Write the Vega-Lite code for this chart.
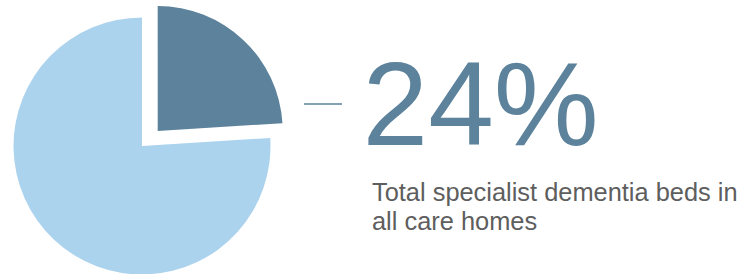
{
  "$schema": "https://vega.github.io/schema/vega-lite/v6.json",
  "padding": 0,
  "spacing": 0,
  "background": "white",
  "config": {"view": {"stroke": null}, "concat": {"spacing": 0}},
  "data": {
    "values": [
      {"category": "Specialist dementia beds", "share": 0.24, "order": 1},
      {"category": "Other beds", "share": 0.76, "order": 2}
    ]
  },
  "hconcat": [
    {
      "width": 284,
      "height": 292,
      "transform": [
        {"stack": "share", "groupby": [], "sort": [{"field": "order", "order": "ascending"}], "as": ["start", "end"]}
      ],
      "layer": [
        {
          "transform": [{"filter": "datum.category === 'Other beds'"}],
          "mark": {"type": "arc", "radius": 128.5},
          "encoding": {
            "theta": {"field": "start", "type": "quantitative", "scale": {"domain": [0, 1]}},
            "theta2": {"field": "end"},
            "color": {"field": "category", "type": "nominal", "scale": {"domain": ["Specialist dementia beds", "Other beds"], "range": ["#5c829c", "#acd3ee"]}, "legend": null}
          }
        },
        {
          "transform": [{"filter": "datum.category === 'Specialist dementia beds'"}],
          "mark": {"type": "arc", "radius": 125, "xOffset": 15.7, "yOffset": -15},
          "encoding": {
            "theta": {"field": "start", "type": "quantitative", "scale": {"domain": [0, 1]}},
            "theta2": {"field": "end"},
            "color": {"field": "category", "type": "nominal", "scale": {"domain": ["Specialist dementia beds", "Other beds"], "range": ["#5c829c", "#acd3ee"]}, "legend": null}
          }
        }
      ]
    },
    {
      "width": 459,
      "height": 292,
      "transform": [{"filter": "datum.category === 'Specialist dementia beds'"}],
      "layer": [
        {
          "mark": {"type": "rule", "color": "#5c829c", "strokeWidth": 1.7},
          "encoding": {"x": {"value": 20}, "x2": {"value": 58}, "y": {"value": 104}}
        },
        {
          "mark": {"type": "text", "font": "Liberation Sans", "fontSize": 118, "color": "#5c829c", "align": "left", "baseline": "alphabetic"},
          "encoding": {
            "text": {"field": "share", "type": "quantitative", "format": ".0%"},
            "x": {"value": 78.6},
            "y": {"value": 145}
          }
        },
        {
          "mark": {"type": "text", "font": "Liberation Sans", "fontSize": 25.4, "color": "#5e5e5e", "align": "left", "baseline": "alphabetic", "lineHeight": 29, "text": ["Total specialist dementia beds in", "all care homes"]},
          "encoding": {"x": {"value": 88}, "y": {"value": 201}}
        }
      ]
    }
  ]
}
